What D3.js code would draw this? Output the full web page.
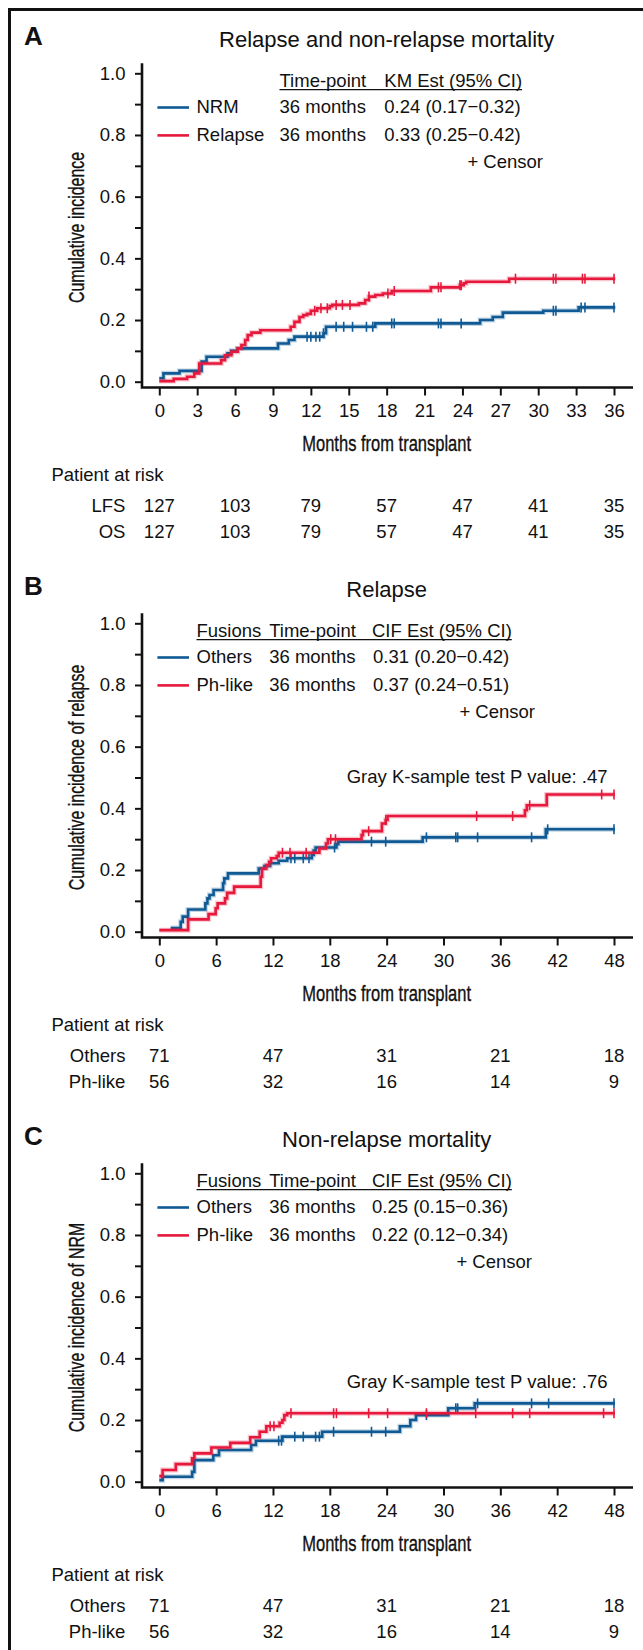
<!DOCTYPE html>
<html>
<head>
<meta charset="utf-8">
<script src="https://cdn.jsdelivr.net/npm/d3@7"></script>
<style>
	body { margin: 0; background: #fff; }
	svg { display: block; }
	text { font-family: "Liberation Sans", Arial, Helvetica, sans-serif; fill: #111; }
	.cond { stroke: #111; stroke-width: 0.35px; }
</style>
</head>
<body>
<div id="chart-area"></div>
<script>

// SVG size
const width = 643,
	height = 1650;

const blue = "#0f5a94",
	red = "#e6193c";

// ---------- Panel A data ----------
const titleA = "Relapse and non-relapse mortality";
const ticksA = [0, 3, 6, 9, 12, 15, 18, 21, 24, 27, 30, 33, 36];
const headA = ["Time-point", "KM Est (95% CI)"];
const groupsA = ["NRM", "Relapse"];
const timepointsA = ["36 months", "36 months"];
const estimatesA = ["0.24 (0.17\u22120.32)", "0.33 (0.25\u22120.42)"];

// [month, cumulative incidence] step points
const nrmA = [[0, 0.011], [0.33, 0.027], [1.6, 0.035], [3.35, 0.065], [3.74, 0.081], [5.4, 0.092], [5.7, 0.10],
	[6.2, 0.108], [9.4, 0.124], [10.25, 0.135], [10.7, 0.146], [13.0, 0.157], [13.2, 0.178], [17.1, 0.189],
	[25.4, 0.20], [26.4, 0.21], [27.2, 0.224], [30.4, 0.23], [33.2, 0.241], [36.1, 0.241]];
const relapseA = [[0, 0.002], [1.14, 0.009], [2.2, 0.016], [2.77, 0.027], [3.16, 0.059], [4.9, 0.07], [5.2, 0.086],
	[5.7, 0.097], [6.2, 0.108], [6.5, 0.119], [6.8, 0.135], [7.0, 0.151], [7.3, 0.159], [8.0, 0.167], [10.4, 0.178],
	[10.7, 0.194], [11.1, 0.21], [11.4, 0.216], [11.7, 0.22], [12.0, 0.23], [12.5, 0.238], [13.5, 0.245],
	[13.7, 0.249], [15.8, 0.254], [16.3, 0.265], [16.6, 0.276], [17.1, 0.281], [17.7, 0.286], [18.4, 0.294],
	[21.5, 0.306], [23.8, 0.313], [24.1, 0.319], [24.3, 0.324], [27.7, 0.334], [36.1, 0.334]];
const nrmCensorA = [11.7, 12.0, 12.4, 12.7, 13.0, 14.0, 14.6, 15.3, 16.4, 16.9, 18.4, 18.6, 22.1, 22.3, 23.9,
	31.2, 31.4, 33.4, 33.7, 36.0];
const relapseCensorA = [12.3, 12.8, 13.3, 14.0, 14.5, 15.1, 16.6, 18.1, 18.6, 22.1, 22.3, 23.8, 23.9, 28.2,
	31.2, 31.4, 33.5, 33.7, 36.0];

const riskTimesA = [0, 6, 12, 18, 24, 30, 36];
const riskLabelsA = ["LFS", "OS"];
const riskLFS = [127, 103, 79, 57, 47, 41, 35];
const riskOS = [127, 103, 79, 57, 47, 41, 35];

// ---------- Panel B data ----------
const titleB = "Relapse";
const ticksBC = [0, 6, 12, 18, 24, 30, 36, 42, 48];
const headBC = ["Fusions", "Time-point", "CIF Est (95% CI)"];
const groupsBC = ["Others", "Ph-like"];
const timepointsBC = ["36 months", "36 months"];
const estimatesB = ["0.31 (0.20\u22120.42)", "0.37 (0.24\u22120.51)"];
const pValueB = "Gray K-sample test P value: .47";

const othersB = [[1.2, 0.012], [2.26, 0.032], [2.47, 0.049], [3.04, 0.072], [4.86, 0.092], [5.08, 0.108],
	[5.3, 0.119], [5.73, 0.135], [6.73, 0.157], [6.86, 0.173], [7.25, 0.189], [10.5, 0.205], [11.1, 0.213],
	[11.7, 0.222], [12.6, 0.23], [13.5, 0.238], [16.1, 0.249], [16.3, 0.263], [16.5, 0.273], [18.7, 0.284],
	[18.9, 0.292], [27.8, 0.306], [40.8, 0.332], [48.1, 0.332]];
const phB = [[0, 0.005], [3.04, 0.04], [5.2, 0.057], [5.95, 0.076], [6.16, 0.092], [6.94, 0.108], [7.16, 0.126],
	[7.9, 0.146], [10.7, 0.178], [10.85, 0.205], [11.3, 0.216], [11.6, 0.227], [11.8, 0.238], [12.4, 0.245],
	[12.6, 0.256], [16.9, 0.27], [17.6, 0.286], [17.8, 0.30], [21.35, 0.313], [21.5, 0.326], [23.5, 0.351],
	[23.9, 0.362], [24.1, 0.375], [38.6, 0.394], [38.8, 0.41], [40.9, 0.445], [48.1, 0.445]];
const othersCensorB = [13.9, 14.3, 15.2, 15.8, 18.5, 22.4, 23.9, 28.2, 31.3, 31.5, 33.6, 39.3, 41.0, 48.0];
const phCensorB = [13.0, 13.8, 15.5, 18.1, 18.6, 22.1, 23.9, 33.5, 37.3, 39.1, 46.7, 48.0];

const riskTimesBC = [0, 12, 24, 36, 48];
const riskOthersB = [71, 47, 31, 21, 18];
const riskPhB = [56, 32, 16, 14, 9];

// ---------- Panel C data ----------
const titleC = "Non-relapse mortality";
const estimatesC = ["0.25 (0.15\u22120.36)", "0.22 (0.12\u22120.34)"];
const pValueC = "Gray K-sample test P value: .76";

const othersC = [[0, 0.005], [0.35, 0.016], [3.47, 0.032], [3.7, 0.07], [5.7, 0.086], [6.3, 0.103], [9.7, 0.119],
	[10.2, 0.133], [13.0, 0.146], [17.2, 0.162], [25.4, 0.18], [26.5, 0.20], [27.1, 0.216], [30.5, 0.238],
	[33.3, 0.254], [48.1, 0.254]];
const phC = [[0, 0.018], [0.35, 0.038], [1.74, 0.057], [3.47, 0.076], [3.7, 0.092], [5.5, 0.111], [7.5, 0.126],
	[9.6, 0.144], [10.6, 0.162], [11.3, 0.18], [12.7, 0.191], [13.0, 0.20], [13.2, 0.216], [13.5, 0.222],
	[48.1, 0.222]];
const othersCensorC = [12.6, 12.9, 14.3, 15.2, 16.5, 16.9, 18.4, 22.4, 23.9, 28.2, 31.3, 31.5, 33.6, 39.3, 41.1, 48.0];
const phCensorC = [11.7, 12.1, 13.9, 18.4, 18.7, 22.1, 24.1, 28.2, 33.4, 37.3, 39.1, 46.9, 48.0];

const riskOthersC = [71, 47, 31, 21, 18];
const riskPhC = [56, 32, 16, 14, 9];

const yTicks = [0, 0.1, 0.2, 0.3, 0.4, 0.5, 0.6, 0.7, 0.8, 0.9, 1.0];


// Create SVG element
let svg = d3.select("#chart-area")
	.append("svg")
	.attr("width", width)
	.attr("height", height);

// Frame (top and left rule)
svg.append("path")
	.attr("d", "M9.5," + height + "V9.5H" + width)
	.attr("fill", "none")
	.attr("stroke", "#111")
	.attr("stroke-width", 3);

drawPanel({
	oy: 0, letter: "A", title: titleA, ticks: ticksA, xMax: 36,
	yLabel: "Cumulative incidence",
	head: headA, headX: [279.5, 384.3],
	rows: groupsA.map((g, i) => [g, timepointsA[i], estimatesA[i]]), rowX: [196.5, 279.5, 384.3],
	censorRight: 543,
	series: [
		{data: nrmA, censor: nrmCensorA, color: blue},
		{data: relapseA, censor: relapseCensorA, color: red}
	],
	riskTimes: riskTimesA, riskLabels: riskLabelsA, risk: [riskLFS, riskOS]
});

drawPanel({
	oy: 550, letter: "B", title: titleB, ticks: ticksBC, xMax: 48,
	yLabel: "Cumulative incidence of relapse",
	head: headBC, headX: [196.5, 269.2, 372],
	rows: groupsBC.map((g, i) => [g, timepointsBC[i], estimatesB[i]]), rowX: [196.5, 269.2, 373],
	censorRight: 535,
	pValue: pValueB, pY: 783.3,
	series: [
		{data: othersB, censor: othersCensorB, color: blue},
		{data: phB, censor: phCensorB, color: red}
	],
	riskTimes: riskTimesBC, riskLabels: groupsBC, risk: [riskOthersB, riskPhB]
});

drawPanel({
	oy: 1100, letter: "C", title: titleC, ticks: ticksBC, xMax: 48,
	yLabel: "Cumulative incidence of NRM",
	head: headBC, headX: [196.5, 269.2, 372],
	rows: groupsBC.map((g, i) => [g, timepointsBC[i], estimatesC[i]]), rowX: [196.5, 269.2, 372],
	censorRight: 532,
	pValue: pValueC, pY: 1388.3,
	series: [
		{data: othersC, censor: othersCensorC, color: blue},
		{data: phC, censor: phCensorC, color: red}
	],
	riskTimes: riskTimesBC, riskLabels: groupsBC, risk: [riskOthersC, riskPhC]
});


// squeeze a label like a condensed face (no narrow font installed)
function condense(sel, factor) {
	sel.each(function () {
		const len = this.getComputedTextLength();
		d3.select(this)
			.attr("textLength", len * factor)
			.attr("lengthAdjust", "spacingAndGlyphs");
	});
}

function drawPanel(p) {
	const g = svg.append("g").attr("transform", "translate(0," + p.oy + ")");

	const axisX = 142,        // y-axis line
		axisRight = 633,
		yTop = 73.3,
		yBottom = 381.7,
		axisY = 387.5;        // x-axis line

	const x = d3.scaleLinear().domain([0, p.xMax]).range([159.3, 614]);
	const y = d3.scaleLinear().domain([0, 1]).range([yBottom, yTop]);

	// Panel letter and title
	g.append("text")
		.attr("x", 24)
		.attr("y", 45)
		.style("font-size", "26px")
		.style("font-weight", "bold")
		.text(p.letter);

	g.append("text")
		.attr("x", (x.range()[0] + x.range()[1]) / 2)
		.attr("y", 46.7)
		.attr("text-anchor", "middle")
		.style("font-size", "22px")
		.text(p.title);

	// Axes
	const yAxis = d3.axisLeft(y)
		.tickValues(yTicks)
		.tickSize(7)
		.tickPadding(9.5)
		.tickFormat(d => Math.round(d * 10) % 2 === 0 ? d3.format(".1f")(d) : "");

	const ya = g.append("g")
		.attr("transform", "translate(" + axisX + ",0)")
		.call(yAxis);
	ya.select(".domain").remove();
	ya.selectAll("line").attr("stroke", "#111").attr("stroke-width", 2);
	ya.selectAll("text").style("font-size", "18.5px").attr("fill", "#111");

	const xAxis = d3.axisBottom(x)
		.tickValues(p.ticks)
		.tickSize(8)
		.tickPadding(8.4)
		.tickFormat(d3.format("d"));

	const xa = g.append("g")
		.attr("transform", "translate(0," + axisY + ")")
		.call(xAxis);
	xa.select(".domain").remove();
	xa.selectAll("line").attr("stroke", "#111").attr("stroke-width", 2);
	xa.selectAll("text").style("font-size", "18.5px").attr("fill", "#111");

	// axis lines
	g.append("path")
		.attr("d", "M" + axisX + "," + (yTop - 10) + "V" + axisY + "H" + axisRight)
		.attr("fill", "none")
		.attr("stroke", "#111")
		.attr("stroke-width", 2.6);

	// Axis labels
	g.append("text")
		.attr("class", "cond")
		.attr("text-anchor", "middle")
		.attr("x", (x.range()[0] + x.range()[1]) / 2)
		.attr("y", axisY + 63)
		.style("font-size", "22px")
		.text("Months from transplant")
		.call(condense, 0.75);

	g.append("text")
		.attr("class", "cond")
		.attr("text-anchor", "middle")
		.attr("transform", "rotate(-90)")
		.attr("x", -(yTop + yBottom) / 2)
		.attr("y", 84)
		.style("font-size", "21.5px")
		.text(p.yLabel)
		.call(condense, 0.74);

	// Curves
	const line = d3.line()
		.x(d => x(d[0]))
		.y(d => y(d[1]))
		.curve(d3.curveStepAfter);

	p.series.forEach(s => {
		g.append("path")
			.datum(s.data)
			.attr("d", line)
			.attr("fill", "none")
			.attr("stroke", s.color)
			.attr("stroke-opacity", 0.25)
			.attr("stroke-width", 5);
		g.append("path")
			.datum(s.data)
			.attr("d", line)
			.attr("fill", "none")
			.attr("stroke", s.color)
			.attr("stroke-width", 2.6);

		// Censor marks
		const bis = d3.bisector(d => d[0]).right;
		const valueAt = t => s.data[Math.max(0, bis(s.data, t) - 1)][1];
		g.selectAll(null)
			.data(s.censor)
			.enter()
			.append("line")
			.attr("x1", d => x(d))
			.attr("x2", d => x(d))
			.attr("y1", d => y(valueAt(d)) - 5)
			.attr("y2", d => y(valueAt(d)) + 5)
			.attr("stroke", s.color)
			.attr("stroke-width", 1.6);
	});

	// Legend
	const headY = 87,
		rowY = [113.3, 141.2];

	const head = g.append("g");
	head.selectAll("text")
		.data(p.head)
		.enter()
		.append("text")
		.attr("x", (d, i) => p.headX[i])
		.attr("y", headY)
		.style("font-size", "18.5px")
		.text(d => d);
	const lastHead = head.selectAll("text").nodes()[p.head.length - 1];
	const headEnd = p.headX[p.head.length - 1] + lastHead.getComputedTextLength();
	g.append("line")
		.attr("x1", p.headX[0])
		.attr("x2", headEnd)
		.attr("y1", headY + 2.6)
		.attr("y2", headY + 2.6)
		.attr("stroke", "#111")
		.attr("stroke-width", 1.4);

	p.rows.forEach((r, i) => {
		g.append("line")
			.attr("x1", 157.4)
			.attr("x2", 189)
			.attr("y1", rowY[i] - 5.8)
			.attr("y2", rowY[i] - 5.8)
			.attr("stroke", p.series[i].color)
			.attr("stroke-width", 2.6);
		r.forEach((t, j) => {
			g.append("text")
				.attr("x", p.rowX[j])
				.attr("y", rowY[i])
				.style("font-size", "18.5px")
				.text(t);
		});
	});

	g.append("text")
		.attr("x", p.censorRight)
		.attr("y", 168.3)
		.attr("text-anchor", "end")
		.style("font-size", "18.5px")
		.text("+ Censor");

	if (p.pValue) {
		g.append("text")
			.attr("x", 607.5)
			.attr("y", p.pY - p.oy)
			.attr("text-anchor", "end")
			.style("font-size", "18.5px")
			.text(p.pValue);
	}

	// Patients at risk
	g.append("text")
		.attr("x", 51.4)
		.attr("y", axisY + 93.5)
		.style("font-size", "18.5px")
		.text("Patient at risk");

	const riskY = [axisY + 124, axisY + 150];
	p.risk.forEach((vals, i) => {
		g.append("text")
			.attr("x", 125.4)
			.attr("y", riskY[i])
			.attr("text-anchor", "end")
			.style("font-size", "18.5px")
			.text(p.riskLabels[i]);
		g.selectAll(null)
			.data(vals)
			.enter()
			.append("text")
			.attr("x", (d, j) => x(p.riskTimes[j]))
			.attr("y", riskY[i])
			.attr("text-anchor", "middle")
			.style("font-size", "18.5px")
			.text(d => d);
	});
}

</script>
</body>
</html>
